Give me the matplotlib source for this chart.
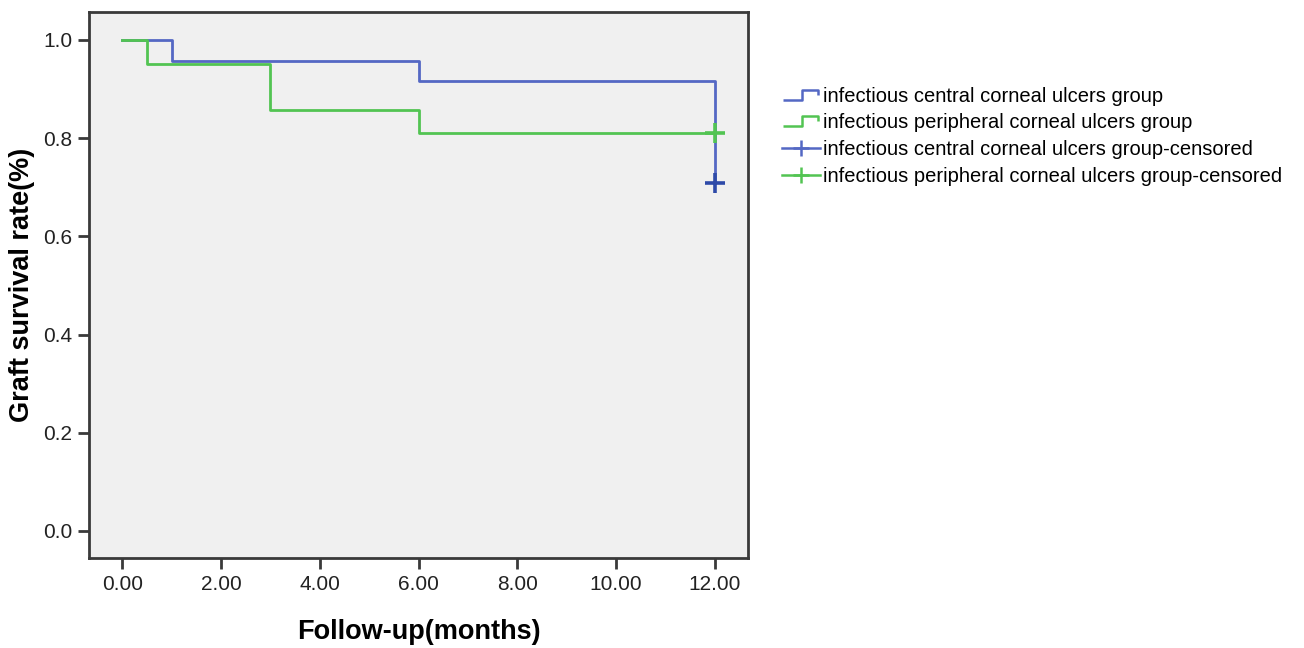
import matplotlib
matplotlib.use("Agg")
import matplotlib.pyplot as plt
from matplotlib.lines import Line2D
from matplotlib.path import Path

plt.rcParams["font.family"] = ["Liberation Sans", "DejaVu Sans"]

# Kaplan-Meier step data (time in months, survival proportion)
central_t = [0, 1, 6, 12]
central_s = [1.0, 0.958, 0.917, 0.708]
peripheral_t = [0, 0.5, 3, 6, 12]
peripheral_s = [1.0, 0.952, 0.857, 0.810, 0.810]

central_cens_t = [12]
central_cens_s = [0.708]
peripheral_cens_t = [12]
peripheral_cens_s = [0.810]

x_ticks = [0, 2, 4, 6, 8, 10, 12]
y_ticks = [0.0, 0.2, 0.4, 0.6, 0.8, 1.0]

labels = [
    "infectious central corneal ulcers group",
    "infectious peripheral corneal ulcers group",
    "infectious central corneal ulcers group-censored",
    "infectious peripheral corneal ulcers group-censored",
]

BLUE = "#5468C4"
BLUE_DARK = "#2E4AA8"
GREEN = "#52C452"
AXIS_COL = "#3A3A3A"

fig = plt.figure(figsize=(13.04, 6.48), dpi=100)
ax = fig.add_axes([0.0683, 0.1389, 0.5053, 0.8426])
ax.set_facecolor("#F0F0F0")

ax.step(central_t, central_s, where="post", color=BLUE, lw=2, zorder=3)
ax.step(peripheral_t, peripheral_s, where="post", color=GREEN, lw=2, zorder=3)
ax.plot(central_cens_t, central_cens_s, ls="none", marker="+", ms=14, mew=2.6,
        color=BLUE_DARK, zorder=4)
ax.plot(peripheral_cens_t, peripheral_cens_s, ls="none", marker="+", ms=14, mew=2.6,
        color=GREEN, zorder=4)

ax.set_xlim(-0.67, 12.67)
ax.set_ylim(-0.055, 1.057)
ax.set_xticks(x_ticks)
ax.set_xticklabels([f"{v:.2f}" for v in x_ticks])
ax.set_yticks(y_ticks)
ax.set_yticklabels([f"{v:.1f}" for v in y_ticks])
ax.tick_params(direction="out", length=8, width=2, colors=AXIS_COL,
               labelsize=15, labelcolor="#222222", pad=4)
for sp in ax.spines.values():
    sp.set_linewidth(2)
    sp.set_color(AXIS_COL)

ax.set_xlabel("Follow-up(months)", fontsize=19.5, fontweight="bold", labelpad=18)
ax.set_ylabel("Graft survival rate(%)", fontsize=19.5, fontweight="bold", labelpad=6)

# step-shaped legend symbol: low on the left, up, across, short drop at the end
step_marker = Path([(-1.0, -0.25), (0.05, -0.25), (0.05, 0.25), (0.95, 0.25), (0.95, 0.0)],
                   [Path.MOVETO, Path.LINETO, Path.LINETO, Path.LINETO, Path.LINETO])

handles = [
    Line2D([], [], ls="none", marker=step_marker, ms=26, mfc="none", mec=BLUE, mew=1.8),
    Line2D([], [], ls="none", marker=step_marker, ms=26, mfc="none", mec=GREEN, mew=1.8),
    Line2D([], [], color=BLUE, lw=1.8, marker="+", ms=11, mew=1.8),
    Line2D([], [], color=GREEN, lw=1.8, marker="+", ms=11, mew=1.8),
]
fig.legend(handles, labels, loc="upper left", bbox_to_anchor=(0.6, 0.866),
           frameon=False, fontsize=14.5, handlelength=1.85, handletextpad=0.15,
           labelspacing=0.38, borderpad=0, borderaxespad=0)

fig.savefig("out.png", dpi=100, facecolor="white")
